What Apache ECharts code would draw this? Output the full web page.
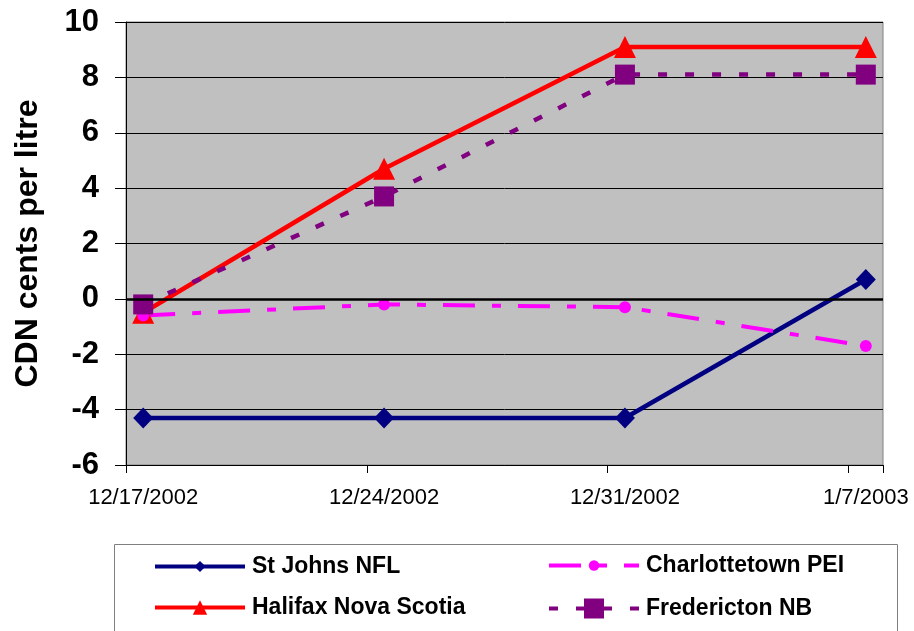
<!DOCTYPE html>
<html>
<head>
<meta charset="utf-8">
<title>Gasoline price change by city</title>
<script src="https://cdn.jsdelivr.net/npm/echarts@6/dist/echarts.min.js"></script>
<style>
  html, body { margin: 0; padding: 0; background: #fff; }
  #chart { width: 914px; height: 631px; }
</style>
</head>
<body>
<div id="chart"></div>
<script>
// Weekly price change, CDN cents per litre
const dates = ['12/17/2002', '12/24/2002', '12/31/2002', '1/7/2003'];
const stJohns = [-4.3, -4.3, -4.3, 0.7];
const charlottetown = [-0.6, -0.2, -0.3, -1.7];
const halifax = [-0.5, 4.7, 9.1, 9.1];
const fredericton = [-0.2, 3.7, 8.1, 8.1];
const yTicks = { min: -6, max: 10, step: 2 };

const FONT = 'Arial, "Liberation Sans", Helvetica, sans-serif';

// Daily date axis: one band per day from the first to the last date
function parseDate(s) {
  const [m, d, y] = s.split('/').map(Number);
  return new Date(Date.UTC(y, m - 1, d));
}
function fmtDate(dt) {
  return (dt.getUTCMonth() + 1) + '/' + dt.getUTCDate() + '/' + dt.getUTCFullYear();
}
const start = parseDate(dates[0]);
const end = parseDate(dates[dates.length - 1]);
const days = [];
for (let t = start.getTime(); t <= end.getTime(); t += 86400000) {
  days.push(fmtDate(new Date(t)));
}
const shown = new Set(dates);
const pairs = vals => dates.map((d, i) => [d, vals[i]]);

const chart = echarts.init(document.getElementById('chart'), null, { renderer: 'canvas' });

function legendFor(name, left, centerY, itemHeight) {
  return {
    data: [name],
    left: left,
    top: centerY - 12,
    padding: 0,
    itemWidth: 90,
    itemHeight: itemHeight,
    selectedMode: false,
    lineStyle: { width: 4 },
    textStyle: { fontFamily: FONT, fontSize: 23, fontWeight: 'bold', color: '#000', padding: [0, 0, 0, 2] }
  };
}

chart.setOption({
  animation: false,
  backgroundColor: '#fff',
  grid: {
    left: 126, right: 31, top: 22, bottom: 166,
    show: true, backgroundColor: '#C0C0C0', borderColor: '#808080', borderWidth: 1
  },
  graphic: [{
    type: 'rect', left: 114, top: 544, z: -1,
    shape: { width: 783, height: 100 },
    style: { fill: '#fff', stroke: '#808080', lineWidth: 1 }
  }],
  legend: [
    legendFor('St Johns NFL', 153, 567, 14),
    legendFor('Halifax Nova Scotia', 153, 608, 18),
    legendFor('Charlottetown PEI', 547, 566, 13),
    legendFor('Fredericton NB', 547, 609, 25)
  ],
  xAxis: {
    type: 'category',
    data: days,
    boundaryGap: true,
    axisLine: { show: true, onZero: false, lineStyle: { color: '#000', width: 1 } },
    axisTick: { show: true, length: 8, interval: i => i % 7 === 0, lineStyle: { color: '#000' } },
    axisLabel: {
      interval: (i, v) => shown.has(v),
      margin: 22,
      fontFamily: FONT, fontSize: 22, color: '#000'
    },
    splitLine: { show: false }
  },
  yAxis: {
    type: 'value',
    min: yTicks.min, max: yTicks.max, interval: yTicks.step,
    name: 'CDN cents per litre',
    nameLocation: 'middle',
    nameRotate: 90,
    nameGap: 82,
    nameTextStyle: { fontFamily: FONT, fontSize: 32, fontWeight: 'bold', color: '#000' },
    axisLine: { show: true, lineStyle: { color: '#000', width: 1 } },
    axisTick: { show: true, length: 11, lineStyle: { color: '#000' } },
    axisLabel: { margin: 27, fontFamily: FONT, fontSize: 31, fontWeight: 'bold', color: '#000' },
    splitLine: { show: true, lineStyle: { color: '#000', width: 1 } }
  },
  series: [
    {
      name: 'St Johns NFL', type: 'line', data: pairs(stJohns),
      symbol: 'diamond', symbolSize: [20, 21],
      lineStyle: { color: '#000080', width: 4.5 },
      itemStyle: { color: '#000080' },
      markLine: {
        silent: true, symbol: 'none', label: { show: false },
        lineStyle: { color: '#000', width: 2.5, type: 'solid' },
        data: [{ yAxis: 0 }]
      }
    },
    {
      name: 'Halifax Nova Scotia', type: 'line', data: pairs(halifax),
      symbol: 'triangle', symbolSize: 22,
      lineStyle: { color: '#FF0000', width: 4.5 },
      itemStyle: { color: '#FF0000' }
    },
    {
      name: 'Charlottetown PEI', type: 'line', data: pairs(charlottetown),
      symbol: 'circle', symbolSize: 12,
      lineStyle: { color: '#FF00FF', width: 4, type: [32, 17, 9, 17] },
      itemStyle: { color: '#FF00FF' }
    },
    {
      name: 'Fredericton NB', type: 'line', data: pairs(fredericton),
      symbol: 'rect', symbolSize: 20,
      lineStyle: { color: '#800080', width: 4.5, type: [9, 18] },
      itemStyle: { color: '#800080' }
    }
  ]
});
</script>
</body>
</html>
